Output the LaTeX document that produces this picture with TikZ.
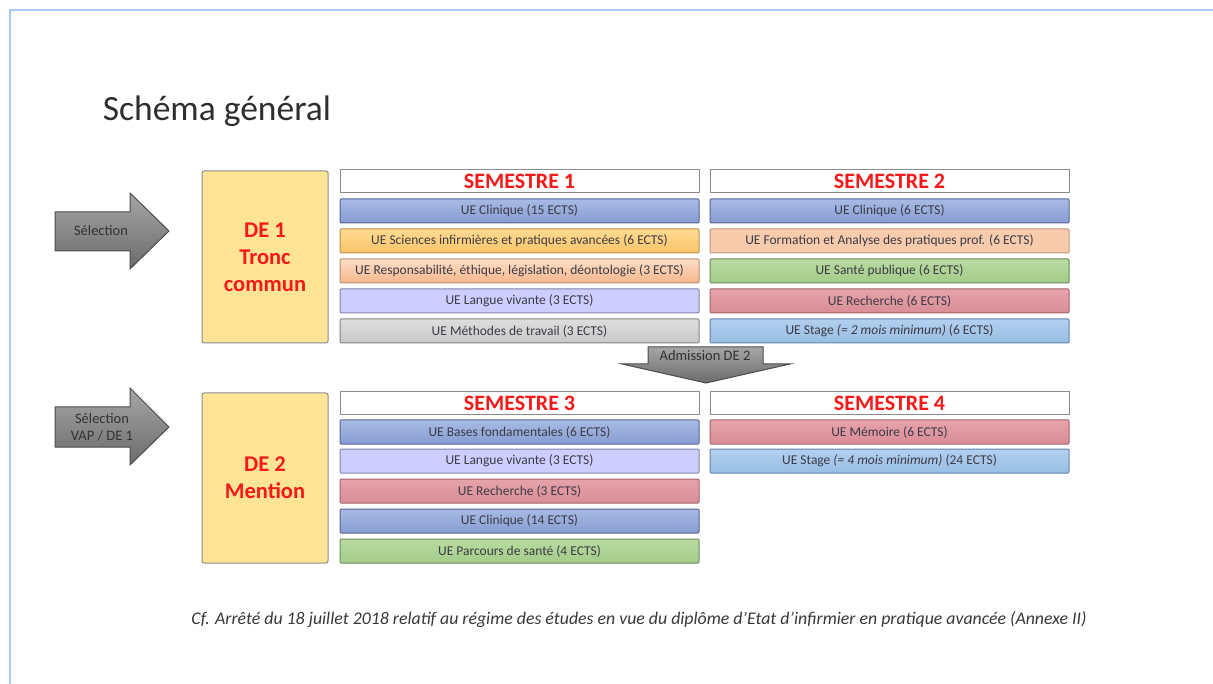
\documentclass[tikz,border=0pt]{standalone}
\usepackage{fontspec}
\setmainfont{Carlito}
\usetikzlibrary{positioning}

\definecolor{frameblue}{RGB}{170,200,250}
\definecolor{semred}{RGB}{245,25,25}
\definecolor{uetext}{RGB}{60,60,70}
\definecolor{deyellow}{RGB}{255,228,150}
\definecolor{cliTop}{RGB}{168,186,228}
\definecolor{cliBot}{RGB}{135,156,210}
\definecolor{cliLine}{RGB}{85,100,145}
\definecolor{sciTop}{RGB}{255,218,145}
\definecolor{sciBot}{RGB}{250,196,105}
\definecolor{sciLine}{RGB}{185,145,80}
\definecolor{resTop}{RGB}{252,222,198}
\definecolor{resBot}{RGB}{246,182,140}
\definecolor{resLine}{RGB}{190,140,105}
\definecolor{lanFill}{RGB}{205,205,255}
\definecolor{lanLine}{RGB}{130,130,170}
\definecolor{metTop}{RGB}{222,222,222}
\definecolor{metBot}{RGB}{200,200,200}
\definecolor{metLine}{RGB}{130,130,130}
\definecolor{forFill}{RGB}{249,203,173}
\definecolor{forLine}{RGB}{190,150,120}
\definecolor{sanTop}{RGB}{185,218,160}
\definecolor{sanBot}{RGB}{163,204,137}
\definecolor{sanLine}{RGB}{105,140,90}
\definecolor{recTop}{RGB}{230,163,170}
\definecolor{recBot}{RGB}{218,140,150}
\definecolor{recLine}{RGB}{160,100,110}
\definecolor{staTop}{RGB}{178,207,238}
\definecolor{staBot}{RGB}{152,190,228}
\definecolor{staLine}{RGB}{100,130,170}

\begin{document}
\begin{tikzpicture}[x=1pt,y=-1pt,line width=1pt]
\tikzstyle{sem} = [draw=black!45,fill=white,minimum width=359pt,minimum height=23pt,inner sep=0pt,text=semred,font=\fontsize{22}{22}\selectfont\bfseries]
\tikzstyle{ue} = [minimum width=359pt,minimum height=24pt,inner sep=0pt,rounded corners=1pt,text=uetext,font=\fontsize{13.5}{13.5}\selectfont]
\tikzstyle{cli} = [ue,draw=cliLine,top color=cliTop,bottom color=cliBot]
\tikzstyle{sci} = [ue,draw=sciLine,top color=sciTop,bottom color=sciBot]
\tikzstyle{res} = [ue,draw=resLine,top color=resTop,bottom color=resBot]
\tikzstyle{lan} = [ue,draw=lanLine,fill=lanFill]
\tikzstyle{met} = [ue,draw=metLine,top color=metTop,bottom color=metBot]
\tikzstyle{for} = [ue,draw=forLine,fill=forFill]
\tikzstyle{san} = [ue,draw=sanLine,top color=sanTop,bottom color=sanBot]
\tikzstyle{rec} = [ue,draw=recLine,top color=recTop,bottom color=recBot]
\tikzstyle{sta} = [ue,draw=staLine,top color=staTop,bottom color=staBot]
\tikzstyle{de} = [draw=black!45,fill=deyellow,rounded corners=2pt,minimum width=126pt,align=center,text=semred,font=\fontsize{22.5}{27}\selectfont\bfseries]
\tikzstyle{arr} = [draw=black!70,top color=black!35,bottom color=black!58]
\tikzstyle{arrtxt} = [align=center,inner sep=0pt,text=black!80,font=\fontsize{14.5}{17}\selectfont]
\useasboundingbox (0,0) rectangle (1213,684);
\draw[frameblue,line width=1.5pt] (10,684) -- (10,10) -- (1213,10);
\node[anchor=base west,text=black!82,font=\fontsize{35.5}{35.5}\selectfont] (titre) at (99,121) {Schéma général};
\draw[arr] (55,212) -- (130,212) -- (130,193) -- (169,231) -- (130,269) -- (130,251) -- (55,251) -- cycle;
\node[arrtxt] (sel1) at (101,231) {Sélection};
\draw[arr] (55,407) -- (130,407) -- (130,388) -- (169,427) -- (130,465) -- (130,447) -- (55,447) -- cycle;
\node[arrtxt] (sel2) at (102,427) {Sélection\\VAP / DE 1};
\node[de,minimum height=172pt] (de1) at (265,257) {DE 1\\Tronc\\commun};
\node[de,minimum height=170pt] (de2) at (265,478) {DE 2\\Mention};
\node[sem] (s1) at (519.5,181.5) {SEMESTRE 1};
\node[cli] (s1a) at (519.5,211) {UE Clinique (15 ECTS)};
\node[sci] (s1b) at (519.5,241) {UE Sciences infirmières et pratiques avancées (6 ECTS)};
\node[res] (s1c) at (519.5,271) {UE Responsabilité, éthique, législation, déontologie (3 ECTS)};
\node[lan] (s1d) at (519.5,301) {UE Langue vivante (3 ECTS)};
\node[met] (s1e) at (519.5,331) {UE Méthodes de travail (3 ECTS)};
\node[sem] (s2) at (889.5,181.5) {SEMESTRE 2};
\node[cli] (s2a) at (889.5,211) {UE Clinique (6 ECTS)};
\node[for] (s2b) at (889.5,241) {UE Formation et Analyse des pratiques prof. (6 ECTS)};
\node[san] (s2c) at (889.5,271) {UE Santé publique (6 ECTS)};
\node[rec] (s2d) at (889.5,301) {UE Recherche (6 ECTS)};
\node[sta] (s2e) at (889.5,331) {UE Stage \textit{(= 2 mois minimum)} (6 ECTS)};
\draw[arr] (648,347) -- (763,347) -- (763,364) -- (790,364) -- (706,383) -- (622,364) -- (648,364) -- cycle;
\node[arrtxt] (adm) at (705,356) {Admission DE 2};
\node[sem] (s3) at (519.5,403.5) {SEMESTRE 3};
\node[cli] (s3a) at (519.5,432) {UE Bases fondamentales  (6 ECTS)};
\node[lan] (s3b) at (519.5,461) {UE Langue vivante (3 ECTS)};
\node[rec] (s3c) at (519.5,491) {UE Recherche (3 ECTS)};
\node[cli] (s3d) at (519.5,521) {UE Clinique (14 ECTS)};
\node[san] (s3e) at (519.5,551) {UE Parcours de santé (4 ECTS)};
\node[sem] (s4) at (889.5,403.5) {SEMESTRE 4};
\node[rec] (s4a) at (889.5,432) {UE Mémoire (6 ECTS)};
\node[sta] (s4b) at (889.5,461) {UE Stage \textit{(= 4 mois minimum)} (24 ECTS)};
\node[text=black!78,font=\fontsize{17.8}{17.8}\selectfont\itshape] (ref) at (639,620) {Cf. Arrêté du 18 juillet 2018 relatif au régime des études en vue du diplôme d’Etat d’infirmier en pratique avancée (Annexe II)};
\end{tikzpicture}
\end{document}
